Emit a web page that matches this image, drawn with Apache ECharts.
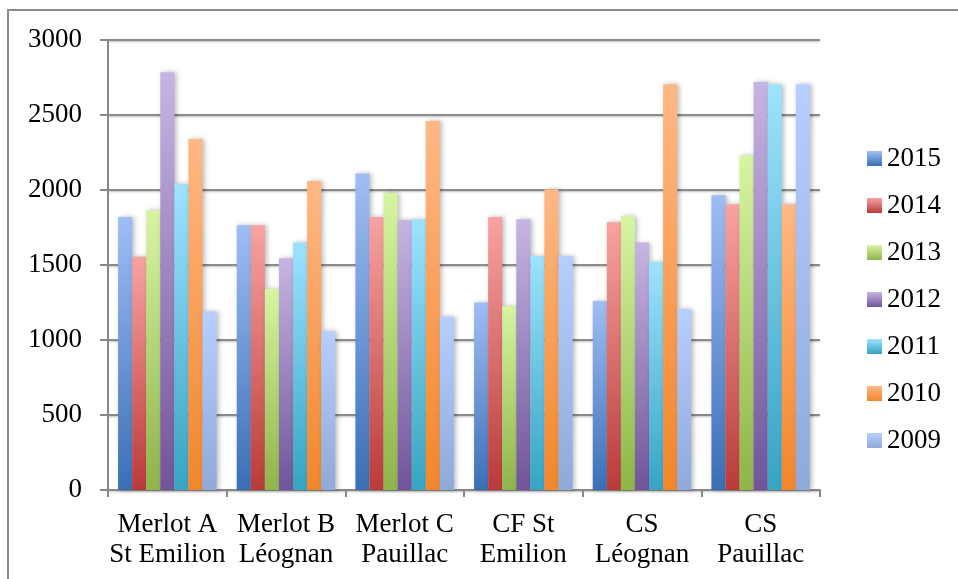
<!DOCTYPE html>
<html>
<head>
<meta charset="utf-8">
<script src="https://cdn.jsdelivr.net/npm/echarts@6/dist/echarts.min.js"></script>
<style>
  html, body { margin: 0; padding: 0; background: #fff; }
  #chart { width: 958px; height: 579px; }
</style>
</head>
<body>
<div id="chart"></div>
<script>
// Wine lots (two-line labels) and vintage years
const categories = [
  'Merlot A\nSt Emilion',
  'Merlot B\nLéognan',
  'Merlot C\nPauillac',
  'CF St\nEmilion',
  'CS\nLéognan',
  'CS\nPauillac'
];
const years = ['2015', '2014', '2013', '2012', '2011', '2010', '2009'];

// Values per vintage, one entry per wine lot
const v2015 = [1820, 1765, 2110, 1250, 1260, 1965];
const v2014 = [1555, 1765, 1820, 1820, 1785, 1905];
const v2013 = [1865, 1340, 1980, 1225, 1825, 2230];
const v2012 = [2785, 1545, 1800, 1805, 1650, 2720];
const v2011 = [2040, 1650, 1805, 1560, 1520, 2705];
const v2010 = [2340, 2060, 2460, 2005, 2705, 1905];
const v2009 = [1190, 1060, 1155, 1560, 1205, 2705];

// Value axis ticks
const yTicks = [0, 500, 1000, 1500, 2000, 2500, 3000];

const seriesValues = [v2015, v2014, v2013, v2012, v2011, v2010, v2009];

// Light top / dark bottom shading for each vintage
const shades = [
  ['#a0bdf5', '#3a6fb5'],
  ['#f8a3a2', '#b93b39'],
  ['#d6f5a2', '#8fb449'],
  ['#c6b5e3', '#71549a'],
  ['#9de3fe', '#36a4c3'],
  ['#ffb885', '#f2862b'],
  ['#b7cffe', '#8fa9d9']
];

const FONT = '"Liberation Serif", "DejaVu Serif", serif';

const series = years.map((y, i) => ({
  name: y,
  type: 'bar',
  data: seriesValues[i],
  barGap: '0%',
  barCategoryGap: '17%',
  itemStyle: {
    color: new echarts.graphic.LinearGradient(0, 0, 0, 1, [
      { offset: 0, color: shades[i][0] },
      { offset: 1, color: shades[i][1] }
    ]),
    shadowColor: 'rgba(0,0,0,0.28)',
    shadowBlur: 5,
    shadowOffsetX: 2
  },
  emphasis: { disabled: true }
}));

const chart = echarts.init(document.getElementById('chart'), null, { renderer: 'canvas' });
chart.setOption({
  animation: false,
  backgroundColor: '#ffffff',
  graphic: [{
    type: 'rect',
    shape: { x: 8, y: 10, width: 1200, height: 1000 },
    style: { fill: 'none', stroke: '#8a8a8a', lineWidth: 2 },
    silent: true,
    z: -1
  }],
  grid: { left: 108, right: 138, top: 40, bottom: 89, containLabel: false },
  legend: {
    orient: 'vertical',
    left: 862,
    top: 140,
    itemWidth: 15,
    itemHeight: 15,
    itemGap: 20,
    icon: 'rect',
    data: years,
    textStyle: { fontFamily: FONT, fontSize: 27, color: '#000', lineHeight: 27 }
  },
  xAxis: {
    type: 'category',
    data: categories,
    axisLine: { show: true, lineStyle: { color: '#888', width: 2 } },
    axisTick: { show: true, alignWithLabel: false, length: 7, lineStyle: { color: '#888', width: 2 } },
    axisLabel: {
      interval: 0,
      margin: 20,
      fontFamily: FONT,
      fontSize: 27,
      lineHeight: 30,
      color: '#000'
    }
  },
  yAxis: {
    type: 'value',
    min: yTicks[0],
    max: yTicks[yTicks.length - 1],
    interval: yTicks[1] - yTicks[0],
    axisLine: { show: true, lineStyle: { color: '#888', width: 2 } },
    axisTick: { show: true, length: 8, lineStyle: { color: '#888', width: 2 } },
    axisLabel: {
      margin: 26,
      fontFamily: FONT,
      fontSize: 27,
      color: '#000',
      formatter: (val) => String(val)
    },
    splitLine: {
      show: true,
      lineStyle: {
        color: '#8c8c8c',
        width: 2,
        shadowColor: 'rgba(0,0,0,0.25)',
        shadowBlur: 2,
        shadowOffsetY: 1
      }
    }
  },
  series: series
});
</script>
</body>
</html>
